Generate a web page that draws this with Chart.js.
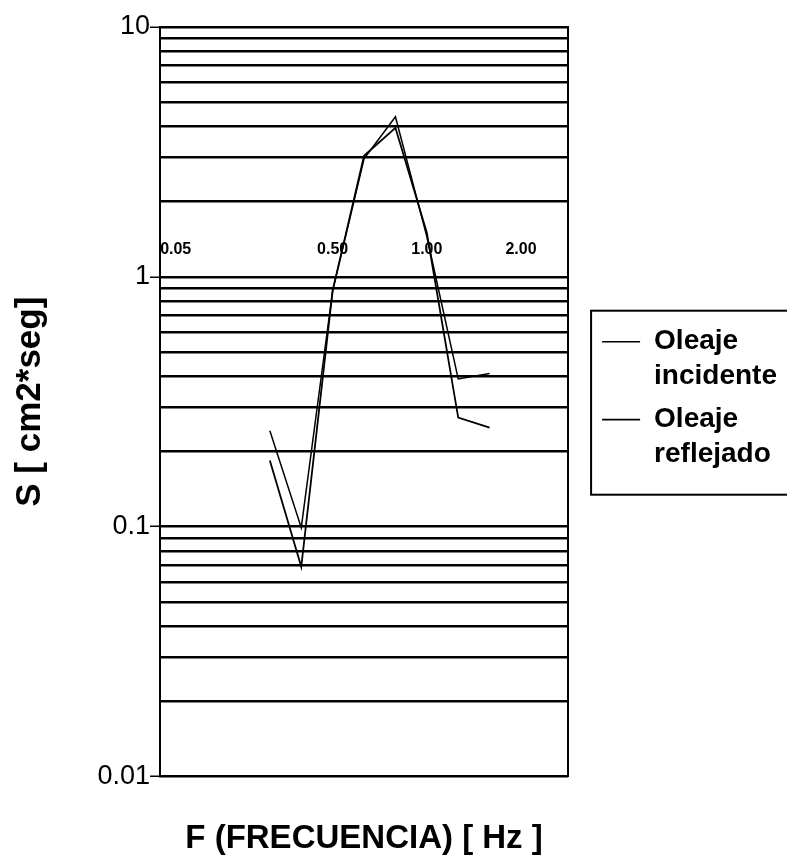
<!DOCTYPE html>
<html>
<head>
<meta charset="utf-8">
<script src="https://cdn.jsdelivr.net/npm/chart.js@4.4.0/dist/chart.umd.min.js"></script>
<style>
  html, body { margin: 0; padding: 0; background: #fff; }
  #wrap { width: 787px; height: 866px; }
</style>
</head>
<body>
<div id="wrap"><canvas id="spectrumChart"></canvas></div>
<script>
const freqLabels = ['0.05', '', '', '', '', '0.50', '', '', '1.00', '', '', '2.00', ''];
const incidente = [null, null, null, 0.242, 0.099, 0.88, 2.97, 4.37, 1.45, 0.39, 0.41, null, null];
const reflejado = [null, null, null, 0.184, 0.069, 0.88, 3.05, 3.95, 1.5, 0.273, 0.249, null, null];
const yTickValues = [0.01, 0.1, 1, 10];
const yTickLabels = ['0.01', '0.1', '1', '10'];
const seriesNames = ['Oleaje incidente', 'Oleaje reflejado'];

const font = "'Liberation Sans', Arial, sans-serif";

// grid line on every 1..9 step of each decade, like the old excel log axis
function logGridValues() {
  const vals = [];
  for (let e = -2; e < 1; e++) {
    for (let k = 1; k < 10; k++) vals.push(Number((k * Math.pow(10, e)).toPrecision(3)));
  }
  vals.push(10);
  return vals;
}

function majorIndex(v) {
  return yTickValues.findIndex(t => Math.abs(t - v) / t < 1e-6);
}

// frame round the legend
const legendFrame = {
  id: 'legendFrame',
  afterDraw(chart) {
    const lg = chart.legend;
    if (!lg || !lg.legendHitBoxes.length) return;
    const hb = lg.legendHitBoxes;
    const last = hb[hb.length - 1];
    const ctx = chart.ctx;
    const left = hb[0].left - 11;
    const top = hb[0].top - 17;
    const bottom = last.top + last.height + 19;
    ctx.save();
    ctx.strokeStyle = '#000';
    ctx.lineWidth = 2;
    ctx.strokeRect(left, top, chart.width + 10 - left, bottom - top);
    ctx.restore();
  }
};

const ctx = document.getElementById('spectrumChart');

new Chart(ctx, {
  type: 'line',
  data: {
    labels: freqLabels,
    datasets: [{
      label: seriesNames[0],
      data: incidente,
      borderColor: '#000',
      borderWidth: 1.5,
      pointRadius: 0,
      tension: 0
    }, {
      label: seriesNames[1],
      data: reflejado,
      borderColor: '#000',
      borderWidth: 1.8,
      pointRadius: 0,
      tension: 0
    }]
  },
  options: {
    responsive: true,
    maintainAspectRatio: false,
    animation: false,
    layout: { padding: { left: 5, top: 27, right: 0, bottom: 0 } },
    plugins: {
      tooltip: { enabled: false },
      legend: {
        position: 'right',
        fullSize: false,
        maxWidth: 300,
        labels: {
          usePointStyle: true,
          pointStyle: 'line',
          pointStyleWidth: 38,
          padding: 8,
          color: '#000',
          font: { family: font, size: 28, weight: 'bold', lineHeight: 1.25 },
          generateLabels(chart) {
            return Chart.defaults.plugins.legend.labels.generateLabels(chart).map(item => {
              item.text = item.text.split(' ');
              return item;
            });
          }
        }
      }
    },
    scales: {
      x: {
        type: 'category',
        offset: true,
        grid: { display: false, drawTicks: false },
        border: { display: false },
        ticks: { display: false },
        title: {
          display: true,
          text: 'F (FRECUENCIA) [ Hz ]',
          color: '#000',
          font: { family: font, size: 33, weight: 'bold' },
          padding: { top: 43, bottom: 7 }
        }
      },
      x2: {
        type: 'category',
        offset: true,
        position: { y: 1 },
        grid: { display: false, drawTicks: false },
        border: { display: false },
        ticks: {
          autoSkip: false,
          maxRotation: 0,
          padding: -37,
          color: '#000',
          font: { family: font, size: 16, weight: 'bold' }
        }
      },
      y: {
        type: 'logarithmic',
        min: 0.01,
        max: 10,
        afterBuildTicks: scale => {
          scale.ticks = logGridValues().map(v => ({ value: v }));
        },
        afterFit: s => { s.width = 155; },
        grid: {
          color: '#000',
          lineWidth: 2.5,
          tickLength: 10,
          tickWidth: 1.5,
          tickColor: c => majorIndex(c.tick.value) >= 0 ? '#000' : 'rgba(0,0,0,0)'
        },
        border: { display: true, color: '#000', width: 2 },
        ticks: {
          autoSkip: false,
          padding: 0,
          color: '#000',
          font: { family: font, size: 27 },
          callback: v => {
            const i = majorIndex(v);
            return i >= 0 ? yTickLabels[i] : '';
          }
        },
        title: {
          display: true,
          text: 'S [ cm2*seg]',
          color: '#000',
          font: { family: font, size: 35, weight: 'bold' },
          padding: { top: 4, bottom: 40 }
        }
      },
      y2: {
        type: 'logarithmic',
        position: 'right',
        min: 0.01,
        max: 10,
        grid: { display: false, drawTicks: false },
        border: { display: true, color: '#000', width: 2 },
        ticks: { display: false },
        afterFit: s => { s.width = 26; }
      }
    }
  },
  plugins: [legendFrame]
});
</script>
</body>
</html>
